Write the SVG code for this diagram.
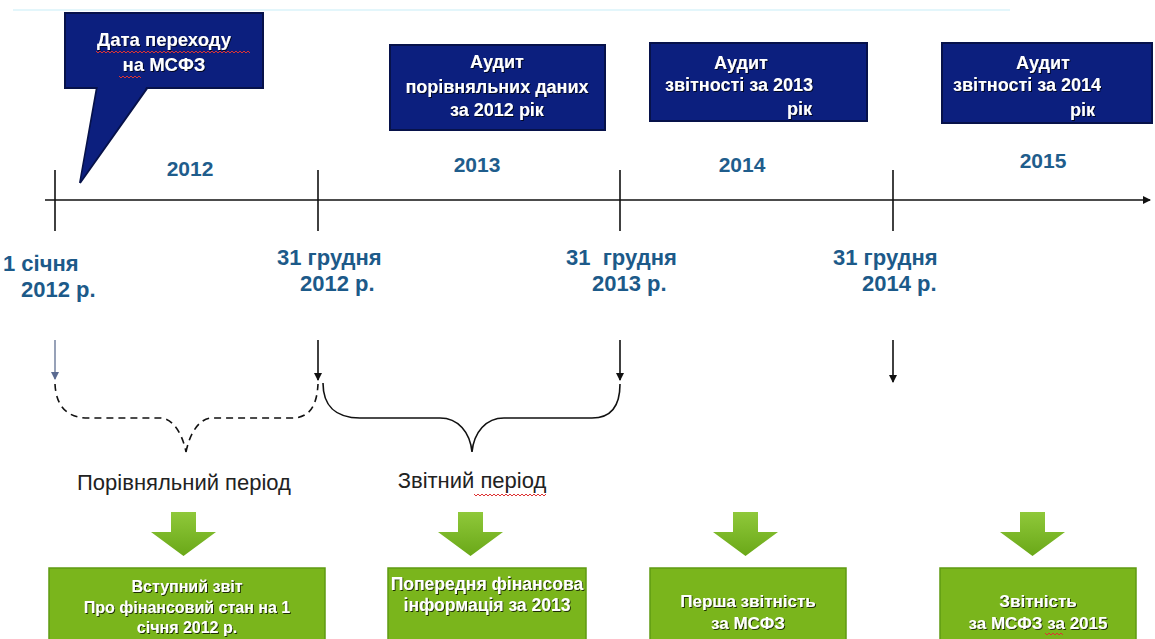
<svg xmlns="http://www.w3.org/2000/svg" width="1155" height="639" viewBox="0 0 1155 639">
<defs>
<style>
.navy{fill:#0c1f7e;stroke:#07124a;stroke-width:2}
.wt{fill:#ffffff;font-family:"Liberation Sans",Arial,sans-serif;font-weight:bold;font-size:18px;filter:url(#sh)}
.yr{fill:#1f5d8c;font-family:"Liberation Sans",Arial,sans-serif;font-weight:bold;font-size:21px}
.dt{fill:#1c5a89;font-family:"Liberation Sans",Arial,sans-serif;font-weight:bold;font-size:22px}
.per{fill:#222;font-family:"Liberation Sans",Arial,sans-serif;font-size:22px}
.gbox{fill:#7ab51c;stroke:#5f9a12;stroke-width:1.5}
.gar{fill:url(#gg)}
.ln{stroke:#111;stroke-width:1.6;fill:none}
.sq{stroke:#d33;stroke-width:1;fill:none}
</style>
<linearGradient id="gg" x1="0" y1="0" x2="0" y2="1">
<stop offset="0" stop-color="#8fc83a"/>
<stop offset="1" stop-color="#6aa818"/>
</linearGradient>
<filter id="sh" x="-10%" y="-30%" width="120%" height="160%">
<feDropShadow dx="1" dy="1" stdDeviation="0.6" flood-color="#000" flood-opacity="0.75"/>
</filter>
<marker id="ah" markerWidth="8" markerHeight="8" refX="7" refY="4" orient="auto" markerUnits="userSpaceOnUse">
<path d="M0,0 L8,4 L0,8 Z" fill="#111"/>
</marker>
<marker id="ahg" markerWidth="8" markerHeight="8" refX="7" refY="4" orient="auto" markerUnits="userSpaceOnUse">
<path d="M0,0 L8,4 L0,8 Z" fill="#5a6a90"/>
</marker>
</defs>
<rect width="1155" height="639" fill="#ffffff"/>
<line x1="13" y1="10" x2="1010" y2="10" stroke="#e3f6fb" stroke-width="2"/>

<g id="callout">
<polygon class="navy" points="97,87 148,87 80,183"/>
<rect class="navy" x="65" y="13" width="198" height="75"/>
<polygon points="98,86 147,86 81,180" fill="#0c1f7e"/>
<text class="wt" x="164" y="46" text-anchor="middle" style="font-size:18.5px">Дата переходу</text>
<text class="wt" x="164" y="71" text-anchor="middle" style="font-size:18.5px">на МСФЗ</text>
<path class="sq" d="M96,51 l2,2 l2,-2 l2,2 l2,-2 l2,2 l2,-2 l2,2 l2,-2 l2,2 l2,-2 l2,2 l2,-2 l2,2 l2,-2 l2,2 l2,-2 l2,2 l2,-2 l2,2 l2,-2 l2,2 l2,-2 l2,2 l2,-2 l2,2 l2,-2 l2,2 l2,-2 l2,2 l2,-2 l2,2 l2,-2 l2,2 l2,-2 l2,2 l2,-2 l2,2 l2,-2 l2,2 l2,-2 l2,2 l2,-2 l2,2 l2,-2 l2,2 l2,-2 l2,2 l2,-2 l2,2 l2,-2 l2,2 l2,-2 l2,2 l2,-2 l2,2 l2,-2 l2,2 l2,-2 l2,2 l2,-2 l2,2 l2,-2 l2,2 l2,-2 l2,2 l2,-2 l2,2 l2,-2 l2,2 l2,-2 l2,2 l2,-2 l2,2 l2,-2 l2,2 l2,-2 l2,2"/>
<path class="sq" d="M119,76 l2,2 l2,-2 l2,2 l2,-2 l2,2 l2,-2 l2,2 l2,-2 l2,2 l2,-2 l2,2"/>
</g>

<g id="audit2012">
<rect class="navy" x="390" y="45" width="215" height="85"/>
<text class="wt" x="497" y="68" text-anchor="middle">Аудит</text>
<text class="wt" x="497" y="93" text-anchor="middle">порівняльних даних</text>
<text class="wt" x="497" y="116" text-anchor="middle">за 2012 рік</text>
</g>

<g id="audit2013">
<rect class="navy" x="650" y="43" width="217" height="78"/>
<text class="wt" x="741" y="69" text-anchor="middle">Аудит</text>
<text class="wt" x="665" y="91">звітності за 2013</text>
<text class="wt" x="787" y="115">рік</text>
</g>

<g id="audit2014">
<rect class="navy" x="942" y="43" width="210" height="80"/>
<text class="wt" x="1043" y="69" text-anchor="middle">Аудит</text>
<text class="wt" x="953" y="91">звітності за 2014</text>
<text class="wt" x="1070" y="116">рік</text>
</g>

<g id="years">
<text class="yr" x="190" y="176" text-anchor="middle">2012</text>
<text class="yr" x="477" y="172" text-anchor="middle">2013</text>
<text class="yr" x="742" y="172" text-anchor="middle">2014</text>
<text class="yr" x="1043" y="168" text-anchor="middle">2015</text>
</g>

<g id="dates">
<text class="dt" x="3" y="271">1 січня</text>
<text class="dt" x="21" y="297">2012 р.</text>
<text class="dt" x="277" y="265">31 грудня</text>
<text class="dt" x="300" y="291">2012 р.</text>
<text class="dt" x="566" y="265" xml:space="preserve">31  грудня</text>
<text class="dt" x="592" y="291">2013 р.</text>
<text class="dt" x="833" y="265">31 грудня</text>
<text class="dt" x="862" y="291">2014 р.</text>
</g>

<g id="connectors">
<line class="ln" x1="45" y1="200" x2="1150" y2="200" marker-end="url(#ah)"/>
<line class="ln" x1="55" y1="170" x2="55" y2="231"/>
<line class="ln" x1="318" y1="170" x2="318" y2="231"/>
<line class="ln" x1="620" y1="170" x2="620" y2="231"/>
<line class="ln" x1="893" y1="170" x2="893" y2="231"/>
<line x1="55" y1="340" x2="55" y2="379" stroke="#7d8aa6" stroke-width="1.6" marker-end="url(#ahg)"/>
<line class="ln" x1="318" y1="340" x2="318" y2="380" marker-end="url(#ah)"/>
<line class="ln" x1="620" y1="340" x2="620" y2="380" marker-end="url(#ah)"/>
<line class="ln" x1="893" y1="340" x2="893" y2="382" marker-end="url(#ah)"/>
<path class="ln" stroke-dasharray="7,5" d="M55,384 C56,405 66,418 88,418 L160,418 C172,418 182,432 186,452 M186,452 C190,432 200,418 212,418 L292,418 C310,418 317,405 318,384"/>
<path class="ln" d="M323,383 C323,405 335,418 360,418 L440,418 C458,418 470,432 472,452 C474,432 486,418 504,418 L592,418 C612,418 620,405 620,384"/>
</g>

<g id="periods">
<text class="per" x="184" y="490" text-anchor="middle">Порівняльний період</text>
<text class="per" x="472" y="488" text-anchor="middle">Звітний період</text>
<path class="sq" d="M474,494 l2,2 l2,-2 l2,2 l2,-2 l2,2 l2,-2 l2,2 l2,-2 l2,2 l2,-2 l2,2 l2,-2 l2,2 l2,-2 l2,2 l2,-2 l2,2 l2,-2 l2,2 l2,-2 l2,2 l2,-2 l2,2 l2,-2 l2,2 l2,-2 l2,2 l2,-2 l2,2 l2,-2 l2,2 l2,-2 l2,2 l2,-2 l2,2 l2,-2"/>
</g>

<g id="green-arrows">
<polygon class="gar" points="171,512 196,512 196,532 216,532 183.5,556 151,532 171,532"/>
<polygon class="gar" points="458,512 483,512 483,532 503,532 470.5,556 438,532 458,532"/>
<polygon class="gar" points="733,512 758,512 758,532 778,532 745.5,556 713,532 733,532"/>
<polygon class="gar" points="1020,512 1045,512 1045,532 1065,532 1032.5,556 1000,532 1020,532"/>
</g>

<g id="box1">
<rect class="gbox" x="49" y="568" width="276" height="75"/>
<text class="wt" x="187" y="592" text-anchor="middle" style="font-size:16px">Вступний звіт</text>
<text class="wt" x="187" y="613" text-anchor="middle" style="font-size:16px">Про фінансовий стан на 1</text>
<text class="wt" x="187" y="633" text-anchor="middle" style="font-size:16px">січня 2012 р.</text>
</g>
<g id="box2">
<rect class="gbox" x="388" y="568" width="198" height="75"/>
<text class="wt" x="487" y="590" text-anchor="middle" style="font-size:17.5px">Попередня фінансова</text>
<text class="wt" x="487" y="611" text-anchor="middle" style="font-size:17.5px">інформація за 2013</text>
</g>
<g id="box3">
<rect class="gbox" x="650" y="568" width="196" height="75"/>
<text class="wt" x="748" y="607" text-anchor="middle" style="font-size:17px">Перша звітність</text>
<text class="wt" x="748" y="629" text-anchor="middle" style="font-size:17px">за МСФЗ</text>
</g>
<g id="box4">
<rect class="gbox" x="940" y="568" width="196" height="75"/>
<text class="wt" x="1038" y="607" text-anchor="middle" style="font-size:17px">Звітність</text>
<text class="wt" x="1038" y="629" text-anchor="middle" style="font-size:17px">за МСФЗ за 2015</text>
<path class="sq" d="M1045,633 l2,2 l2,-2 l2,2 l2,-2 l2,2 l2,-2 l2,2 l2,-2 l2,2"/>
</g>
</svg>
